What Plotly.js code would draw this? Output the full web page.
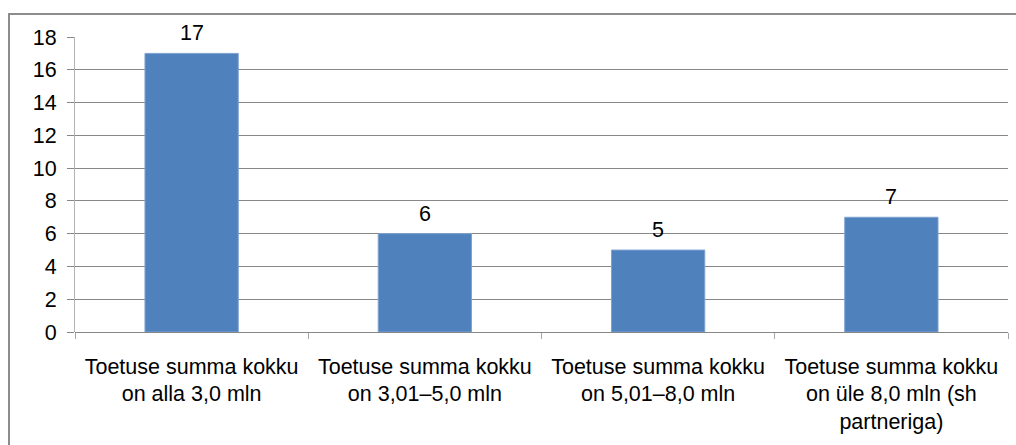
<!DOCTYPE html>
<html>
<head>
<meta charset="utf-8">
<script src="https://cdn.plot.ly/plotly-3.0.1.min.js"></script>
<style>
html,body{margin:0;padding:0;background:#fff;}
#wrap{position:relative;width:1016px;height:445px;}
#chart{width:1016px;height:445px;}
#frame{position:absolute;left:8px;top:13px;width:1100px;height:500px;border:2px solid #8c8c8c;box-sizing:border-box;pointer-events:none;}
</style>
</head>
<body>
<div id="wrap"><div id="chart"></div><div id="frame"></div></div>
<script>
const categories = [
  "Toetuse summa kokku<br>on alla 3,0 mln",
  "Toetuse summa kokku<br>on 3,01–5,0 mln",
  "Toetuse summa kokku<br>on 5,01–8,0 mln",
  "Toetuse summa kokku<br>on üle 8,0 mln (sh<br>partneriga)"
];
const values = [17, 6, 5, 7];
const yTicks = [0, 2, 4, 6, 8, 10, 12, 14, 16, 18];

const font = "Liberation Sans, Arial, sans-serif";

const labels = categories.map((c, i) => ({
  x: c, y: values[i], xref: 'x', yref: 'y',
  text: String(values[i]), showarrow: false,
  yanchor: 'bottom', yshift: 6,
  font: {family: font, size: 21.5, color: '#000'}
}));

Plotly.newPlot('chart', [{
  type: 'bar',
  x: categories,
  y: values,
  width: 0.4,
  marker: {color: '#4F81BD', line: {color: '#7fa3d1', width: 1}},
  hoverinfo: 'none'
}], {
  width: 1016, height: 445,
  margin: {l: 75, r: 8, t: 37, b: 113, pad: 0},
  paper_bgcolor: '#fff', plot_bgcolor: '#fff',
  showlegend: false,
  annotations: labels,
  xaxis: {
    type: 'category',
    showgrid: false,
    showline: false,
    tickson: 'boundaries',
    ticks: 'outside', ticklen: 6, tickcolor: '#a6a6a6', tickwidth: 1,
    ticklabelstandoff: 19,
    tickfont: {family: font, size: 21.5, color: '#000'},
    zeroline: false,
    fixedrange: true
  },
  yaxis: {
    range: [0, 18],
    tickvals: yTicks,
    ticktext: yTicks.map(String),
    showgrid: true, gridcolor: '#878787', gridwidth: 1,
    showline: true, linecolor: '#b3b3b3', linewidth: 1,
    ticks: 'outside', ticklen: 7, tickcolor: '#878787',
    ticklabelstandoff: 6,
    tickfont: {family: font, size: 21.5, color: '#000'},
    zeroline: true, zerolinecolor: '#878787', zerolinewidth: 1,
    fixedrange: true
  }
}, {displayModeBar: false, staticPlot: true});
</script>
</body>
</html>
